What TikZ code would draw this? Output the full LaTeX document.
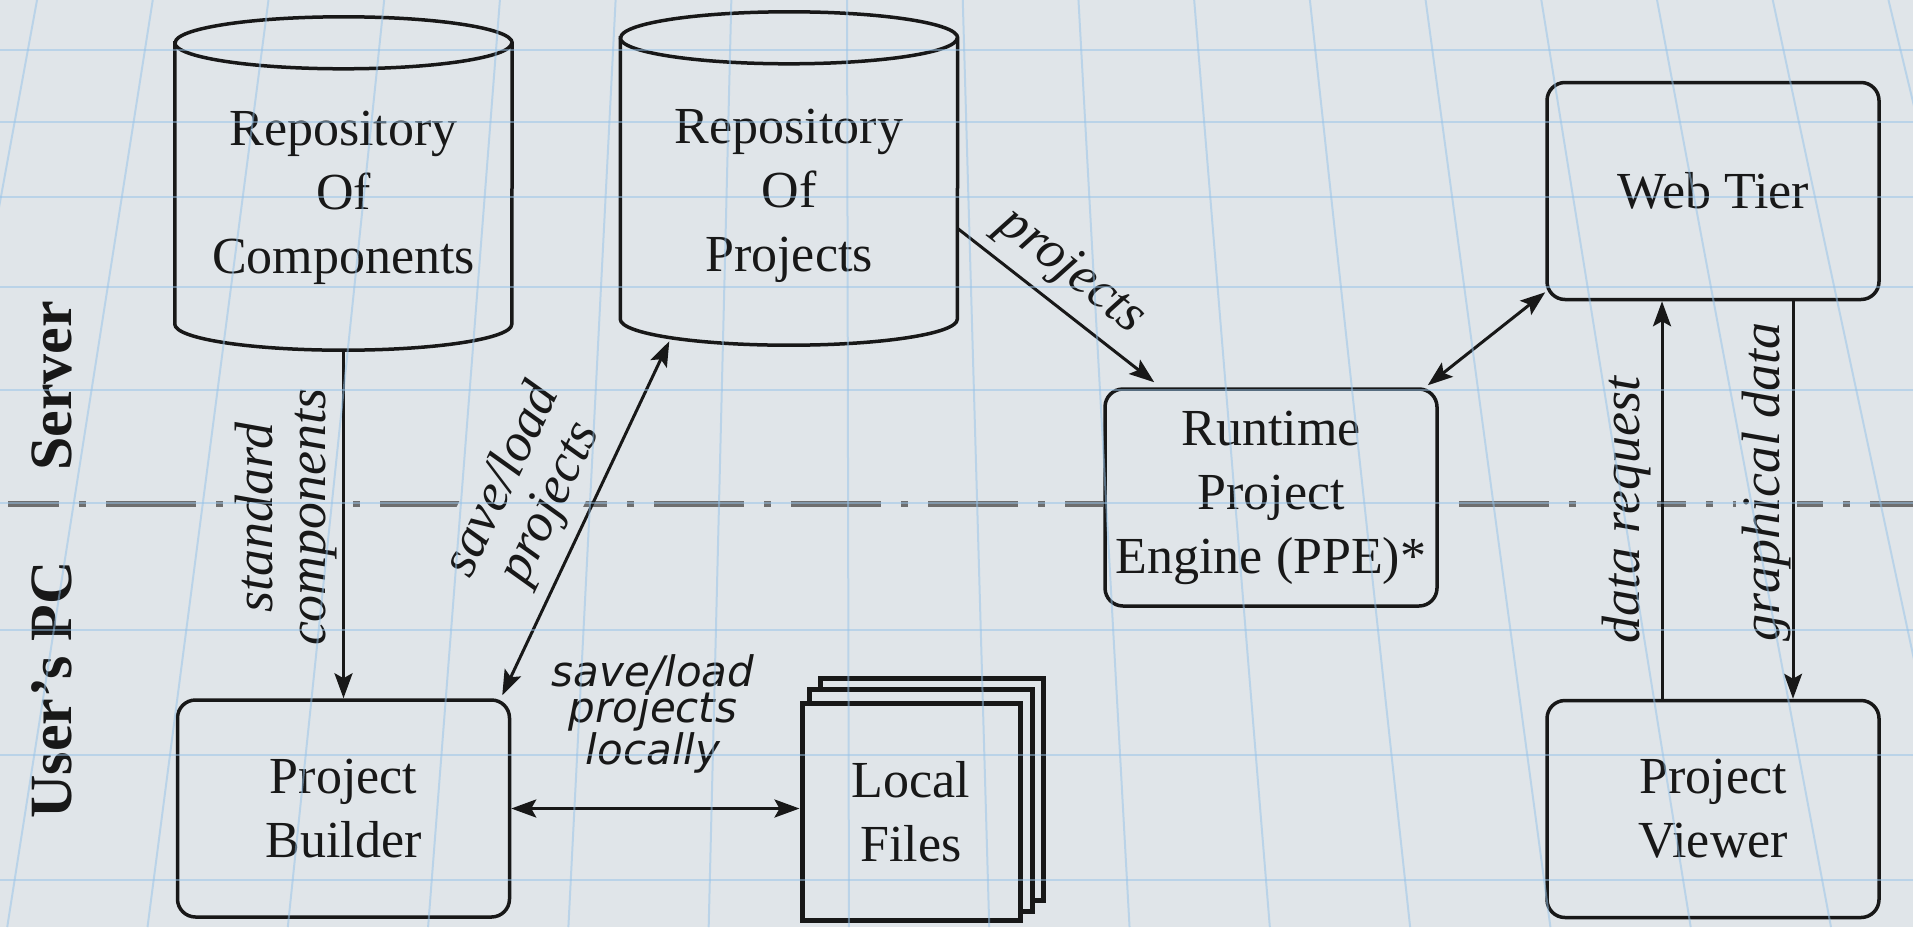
\documentclass[tikz,border=0pt]{standalone}
\usepackage{fontspec}
\setmainfont{Liberation Serif}
\newfontfamily\obliquesans{DejaVu Sans}
\usetikzlibrary{arrows.meta,calc}

\definecolor{papercol}{RGB}{224,229,233}
\definecolor{inkcol}{RGB}{24,24,24}
\definecolor{sepcol}{RGB}{110,110,110}
\definecolor{gridcol}{RGB}{150,195,232}

\newcommand{\boxfont}{\fontsize{52pt}{64pt}\selectfont}
\newcommand{\tagfont}{\fontsize{54pt}{53pt}\selectfont\itshape}
\newcommand{\localfont}{\obliquesans\fontsize{42pt}{36pt}\selectfont\itshape}
\newcommand{\sidefont}{\fontsize{60pt}{70pt}\selectfont\bfseries}

% outline of a vertical cylinder fitted to an (empty) node
\newcommand{\cylinderoutline}[1]{%
  \draw[ink, fill=papercol] ($(#1.north west)+(0,26)$) -- ($(#1.south west)+(0,-26)$)
    arc[start angle=180, end angle=360, x radius=168.5pt, y radius=26pt]
    -- ($(#1.north east)+(0,26)$)
    arc[start angle=0, end angle=180, x radius=168.5pt, y radius=26pt] -- cycle;
  \draw[ink] ($(#1.north west)+(0,26)$)
    arc[start angle=180, end angle=360, x radius=168.5pt, y radius=26pt];
}

\pgfdeclarelayer{paper}
\pgfdeclarelayer{under}
\pgfdeclarelayer{gridtop}
\pgfsetlayers{paper,under,main,gridtop}

\begin{document}
\begin{tikzpicture}[x=1pt, y=-1pt,
  ink/.style={draw=inkcol, line width=3.5pt},
  procbox/.style={ink, rounded corners=18pt, fill=papercol, minimum width=332pt,
    minimum height=217pt, inner sep=0pt, align=center, font=\boxfont, text=inkcol},
  cylnode/.style={minimum width=337pt, minimum height=333pt, inner sep=0pt},
  cyltext/.style={align=center, font=\boxfont, text=inkcol, inner sep=0pt},
  filebox/.style={draw=inkcol, line width=5pt, fill=papercol, minimum width=218pt,
    minimum height=217pt, inner sep=0pt, align=center, font=\boxfont, text=inkcol},
  tag/.style={align=center, font=\tagfont, text=inkcol, fill=papercol, inner sep=6pt},
  sidetag/.style={font=\sidefont, text=inkcol, rotate=90},
  flow/.style={draw=inkcol, line width=3pt, -{Stealth[length=25pt, width=18pt, inset=5pt]}},
  twoway/.style={draw=inkcol, line width=3pt,
    {Stealth[length=25pt, width=18pt, inset=5pt]}-{Stealth[length=25pt, width=18pt, inset=5pt]}},
  sepline/.style={draw=sepcol, line width=6pt, dash pattern=on 90pt off 20pt on 7pt off 20pt},
  gridline/.style={draw=gridcol, line width=2pt, opacity=0.5},
]
\useasboundingbox (0,0) rectangle (1913,927);
\begin{pgfonlayer}{paper}
  \fill[papercol] (0,0) rectangle (1913,927);
\end{pgfonlayer}

% tier names
\node[sidetag] (srv) at (52,386) {Server};
\node[sidetag] (upc) at (52,690) {User's PC};

% repositories
\node[cylnode] (roc) at (343.5,183.5) {};
\node[cylnode] (rop) at (789,178.5) {};
\begin{pgfonlayer}{under}
  \cylinderoutline{roc}
  \cylinderoutline{rop}
\end{pgfonlayer}
\node[cyltext] (roc-t) at (343.5,198) {Repository\\Of\\Components};
\node[cyltext] (rop-t) at (789,196) {Repository\\Of\\Projects};

% processes
\node[procbox] (wt) at (1713,191) {Web Tier};
\node[procbox] (rpe) at (1271,497.5) {Runtime\\Project\\Engine (PPE)*};
\node[procbox] (pb) at (343.5,808.5) {Project\\Builder};
\node[procbox] (pv) at (1713,809) {Project\\Viewer};

% stacked local files
\node[filebox] (files) at (911,811.5) {Local\\Files};
\begin{pgfonlayer}{under}
  \draw[draw=inkcol, line width=5pt, fill=papercol]
    ($(files.south west)+(21,-22)$) rectangle ($(files.north east)+(21,-22)$);
  \draw[draw=inkcol, line width=5pt, fill=papercol]
    ($(files.south west)+(10,-11)$) rectangle ($(files.north east)+(10,-11)$);
\end{pgfonlayer}

% server / user's PC boundary
\coordinate (sepL) at (8,504);
\coordinate (sepR) at (1913,504);
\begin{pgfonlayer}{under}
  \draw[sepline, dash phase=39pt] (sepL) -- (rpe.west |- sepL);
  \draw[sepline, dash phase=117pt] (rpe.east |- sepR) -- (sepR);
\end{pgfonlayer}

% connector labels
\node[tag, rotate=90] (t-std) at (286,517) {standard\\components};
\node[tag, rotate=64.5] (t-save) at (527,492) {save/load\\projects};
\node[tag, rotate=-38] (t-proj) at (1071,272) {projects};
\node[tag, font=\localfont] (t-local) at (653,714) {save/load\\projects\\locally};
\node[tag, rotate=90] (t-req) at (1626,510) {data request};
\node[tag, rotate=90] (t-gfx) at (1766,482) {graphical data};

% connectors
\draw[flow] (roc.south) -- (pb.north);
\draw[twoway] ($(pb.north east)+(-9,-3)$) -- ($(rop.south west)+(49,-4)$);
\draw[flow] ($(rop.east)+(0,50)$) -- ($(rpe.north west)+(51,-5)$);
\draw[twoway] ($(rpe.north east)+(-11,-2)$) -- ($(wt.south west)+(0,-9)$);
\draw[flow] ($(pv.north)+(-51,0)$) -- ($(wt.south)+(-51,0)$);
\draw[flow] ($(wt.south)+(80,0)$) -- ($(pv.north)+(80,0)$);
\draw[twoway] (pb.east) -- (pb.east -| files.west);

% graph-paper ruling
\begin{pgfonlayer}{gridtop}
  \foreach \xm in {-176,-48,...,2128}
    \draw[gridline] ({\xm-(\xm-838)*0.096},0) -- ({\xm+(\xm-838)*0.096},927);
  \foreach \yy in {50,122,197,287,390,503,630,755,880}
    \draw[gridline] (0,\yy) -- (1913,\yy);
\end{pgfonlayer}
\end{tikzpicture}
\end{document}
